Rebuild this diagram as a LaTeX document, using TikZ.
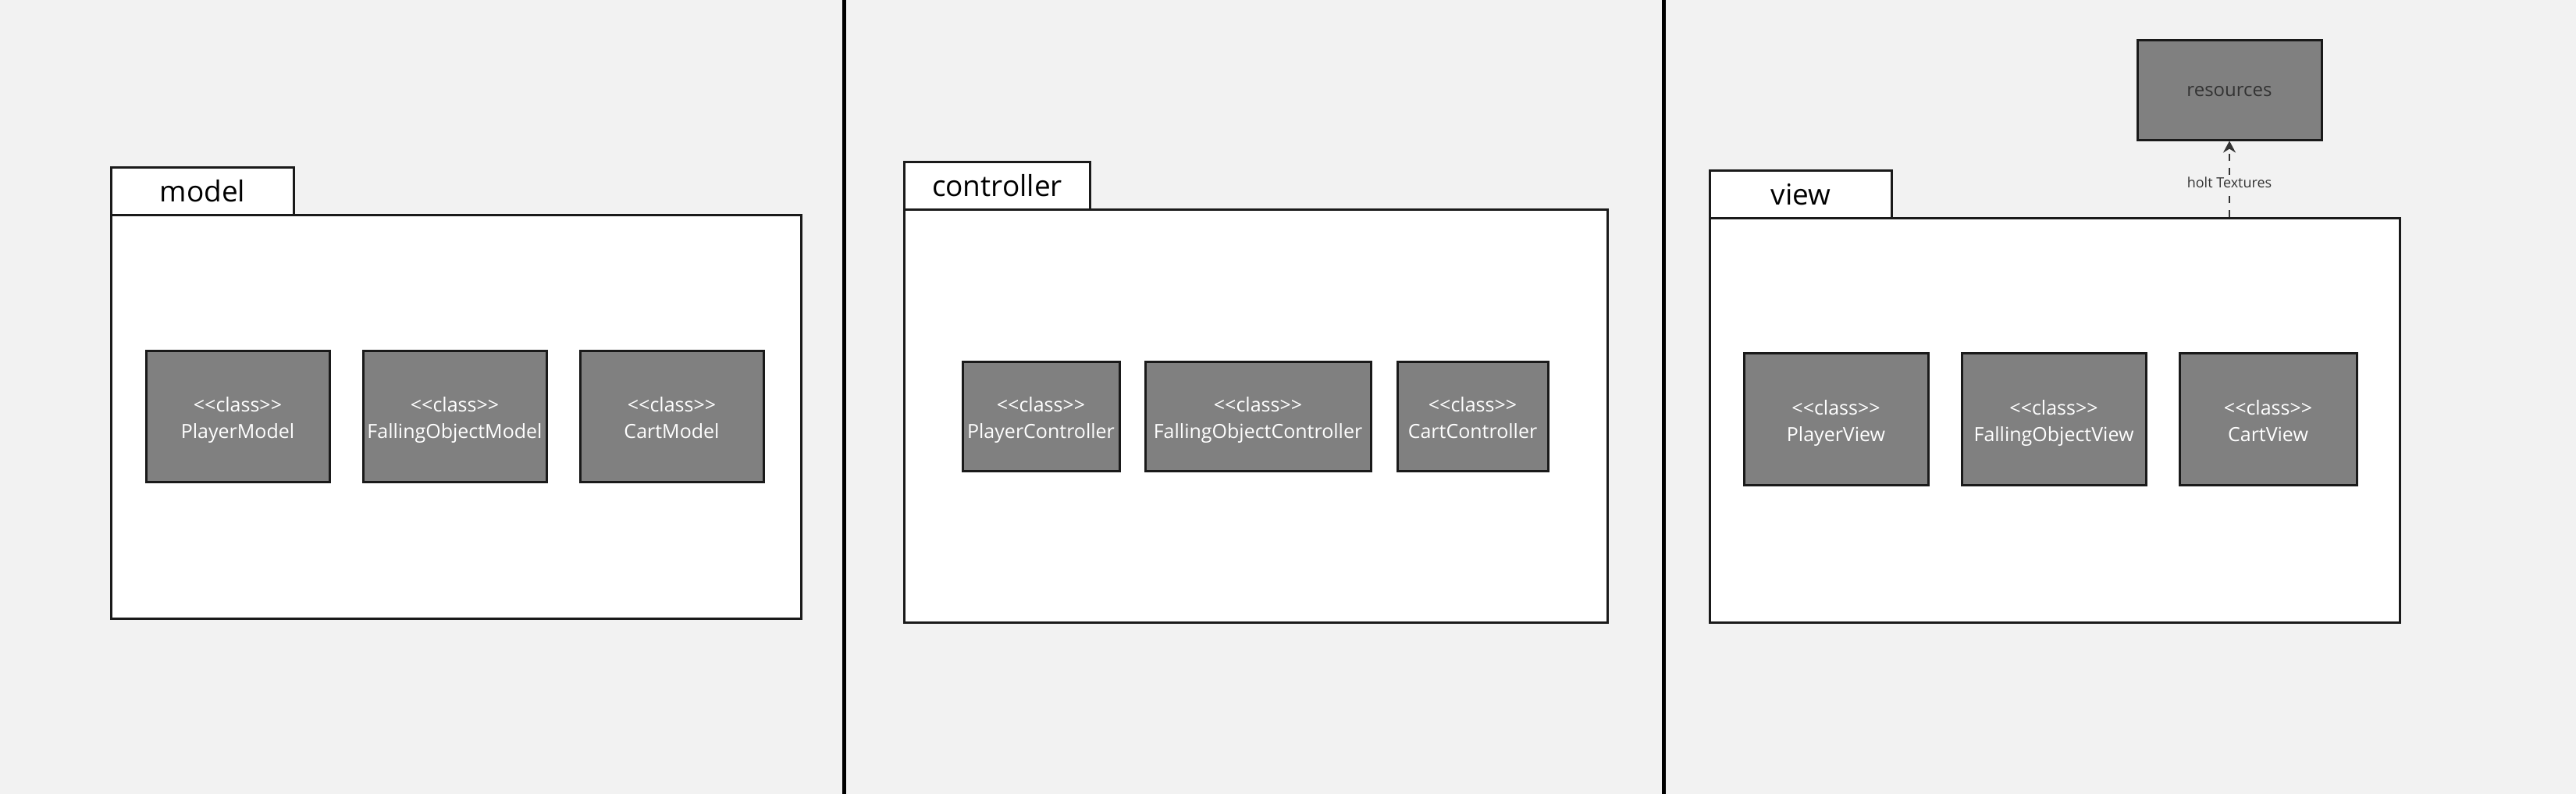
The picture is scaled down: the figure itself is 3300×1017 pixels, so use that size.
\documentclass[tikz,border=0pt]{standalone}
\usepackage{fontspec}
\newfontfamily\osans{Open Sans}
\usetikzlibrary{arrows.meta}
\definecolor{bg}{HTML}{F2F2F2}
\definecolor{clsfill}{HTML}{808080}
\definecolor{edge}{HTML}{1A1A1A}
\definecolor{txtdark}{HTML}{333333}
\newcommand{\clstxt}[1]{\rule{0pt}{30pt}<<class>>\\#1\rule[-7pt]{0pt}{7pt}}
\tikzset{
  pkgbox/.style={draw=edge, line width=3pt, fill=white, inner sep=0pt, anchor=north west},
  pkgtab/.style={draw=edge, line width=3pt, fill=white, inner sep=0pt, anchor=north west},
  tabtext/.style={font=\osans\fontsize{37}{40}\selectfont, text=black},
  clsbox/.style={draw=edge, line width=3pt, fill=clsfill, inner sep=0pt, align=center,
    text=white, font=\osans\fontsize{25}{34}\selectfont},
  divider/.style={line width=5pt, draw=black},
  deplabel/.style={fill=bg, inner sep=2pt, text=txtdark, font=\osans\fontsize{18}{20}\selectfont}
}
\begin{document}
\begin{tikzpicture}[x=1pt,y=-1pt]
\fill[bg] (0,0) rectangle (3300,1017);
\useasboundingbox (0,0) rectangle (3300,1017);
% dividers
\coordinate (d1t) at (1081.5,0);
\coordinate (d1b) at (1081.5,1017);
\coordinate (d2t) at (2131.5,0);
\coordinate (d2b) at (2131.5,1017);
\draw[divider] (d1t) -- (d1b);
\draw[divider] (d2t) -- (d2b);
% model package
\node[pkgtab, minimum width=234pt, minimum height=61pt] (modeltab) at (141,213) {};
\node[tabtext] at (modeltab.center) (modeltxt) {model};
\node[pkgbox, minimum width=884pt, minimum height=517pt] (modelbox) at (141,274) {};
\node[clsbox, minimum width=235pt, minimum height=168pt] (pm) at (304.5,533) {\clstxt{PlayerModel}};
\node[clsbox, minimum width=235pt, minimum height=168pt] (fm) at (582.5,533) {\clstxt{FallingObjectModel}};
\node[clsbox, minimum width=235pt, minimum height=168pt] (cm) at (860.5,533) {\clstxt{CartModel}};
% controller package
\node[pkgtab, minimum width=238pt, minimum height=61pt] (ctrltab) at (1157,206) {};
\node[tabtext] at (ctrltab.center) (ctrltxt) {controller};
\node[pkgbox, minimum width=901pt, minimum height=529pt] (ctrlbox) at (1157,267) {};
\node[clsbox, minimum width=201pt, minimum height=140pt] (pc) at (1333.5,533) {\clstxt{PlayerController}};
\node[clsbox, minimum width=289pt, minimum height=140pt] (fc) at (1611.5,533) {\clstxt{FallingObjectController}};
\node[clsbox, minimum width=193pt, minimum height=140pt] (cc) at (1886.5,533) {\clstxt{CartController}};
% view package
\node[pkgtab, minimum width=233pt, minimum height=61pt] (viewtab) at (2189,217) {};
\node[tabtext] at (viewtab.center) (viewtxt) {view};
\node[pkgbox, minimum width=884pt, minimum height=518pt] (viewbox) at (2189,278) {};
\node[clsbox, minimum width=236pt, minimum height=169pt] (pv) at (2352,536.5) {\clstxt{PlayerView}};
\node[clsbox, minimum width=236pt, minimum height=169pt] (fv) at (2631,536.5) {\clstxt{FallingObjectView}};
\node[clsbox, minimum width=227pt, minimum height=169pt] (cv) at (2905.5,536.5) {\clstxt{CartView}};
% resources
\node[clsbox, minimum width=236pt, minimum height=128pt, text=txtdark,
  font=\osans\fontsize{24}{30}\selectfont] (res) at (2856,115) {\rule{0pt}{17pt}resources};
\draw[draw=txtdark, line width=2pt, dash pattern=on 9pt off 9pt,
  -{Stealth[length=15pt,width=16pt]}]
  (res.south |- viewbox.north) -- node[deplabel, pos=0.45] (deplbl) {holt Textures} (res.south);
\end{tikzpicture}
\end{document}
